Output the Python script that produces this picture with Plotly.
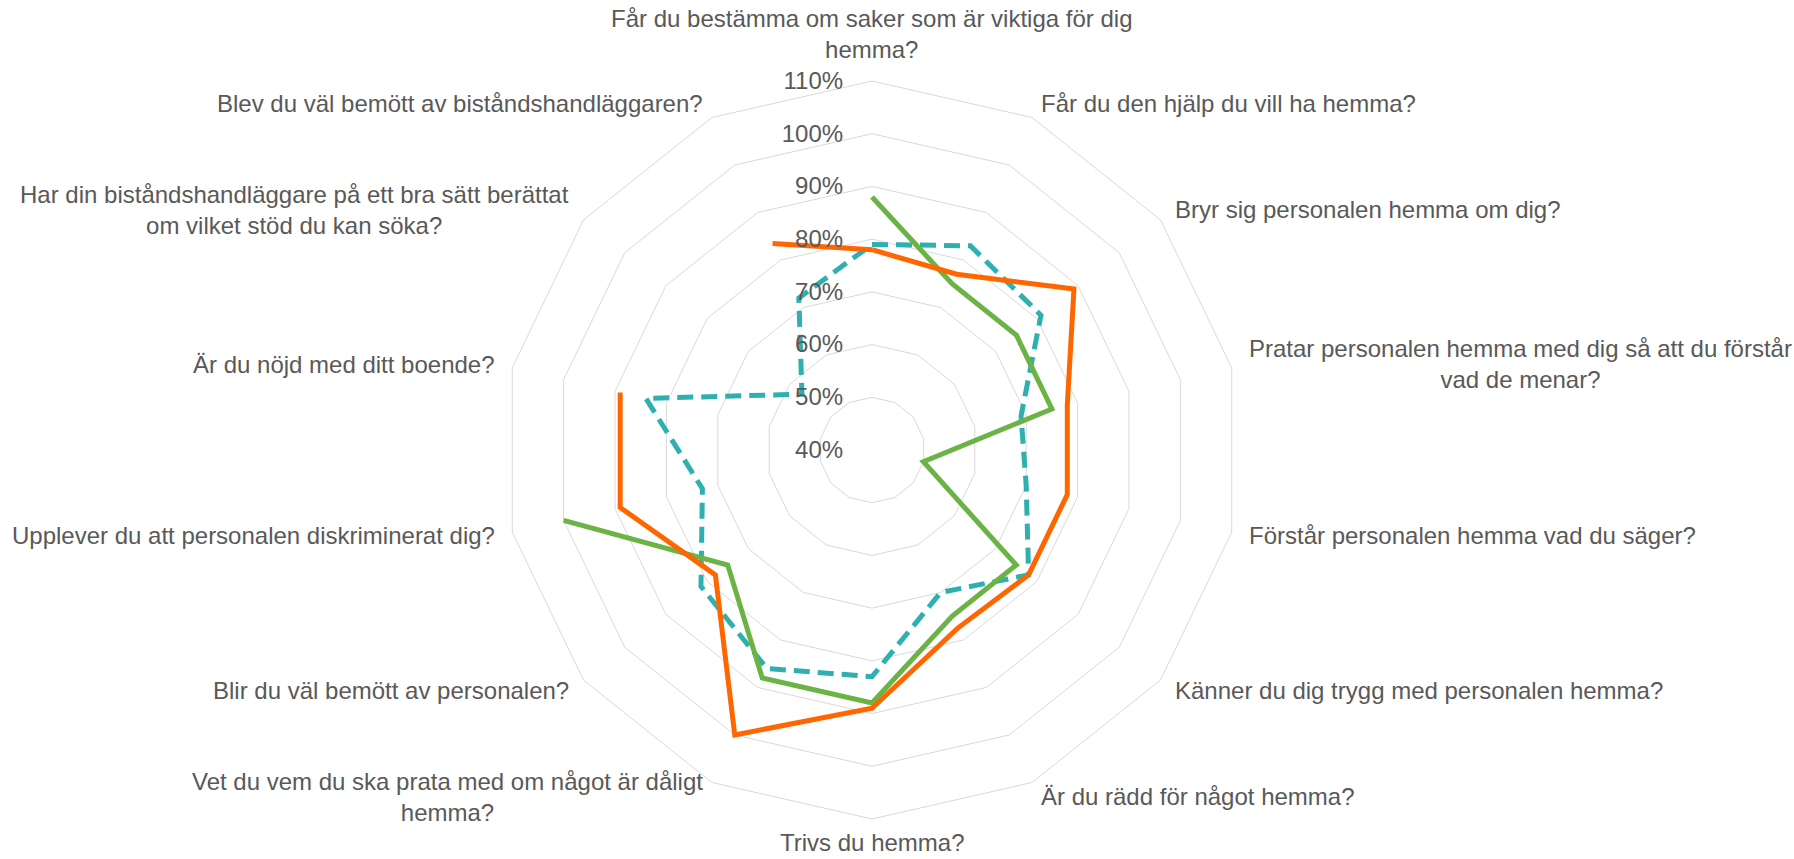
import math
import plotly.graph_objects as go

categories = [
    "Får du bestämma om saker som är viktiga för dig<br>hemma?",
    "Får du den hjälp du vill ha hemma?",
    "Bryr sig personalen hemma om dig?",
    "Pratar personalen hemma med dig så att du förstår<br>vad de menar?",
    "Förstår personalen hemma vad du säger?",
    "Känner du dig trygg med personalen hemma?",
    "Är du rädd för något hemma?",
    "Trivs du hemma?",
    "Vet du vem du ska prata med om något är dåligt<br>hemma?",
    "Blir du väl bemött av personalen?",
    "Upplever du att personalen diskriminerat dig?",
    "Är du nöjd med ditt boende?",
    "Har din biståndshandläggare på ett bra sätt berättat<br>om vilket stöd du kan söka?",
    "Blev du väl bemött av biståndshandläggaren?",
]

orange_values = [78, 77, 89, 78, 78, 78, 77.5, 89, 100, 78, 89, 89, None, 83.5]
teal_values = [79, 83, 81, 69, 70, 78, 70, 83, 86, 81.5, 73, 84, 57, 72]
green_values = [88, 75, 75, 75, 50, 75, 75, 88, 88, 75, 100, None, None, None]

radial_ticks = [40, 50, 60, 70, 80, 90, 100, 110]
radial_labels = ["40%", "50%", "60%", "70%", "80%", "90%", "100%", "110%"]

TEXT = "#595959"
GRID = "#D9D9D9"
W, H = 1794, 859
FS = 24

# polar area (pixels)
CX, CY, R = 872, 450, 369
dom_x = [(CX - R) / W, (CX + R) / W]
dom_y = [1 - (CY + R) / H, 1 - (CY - R) / H]


def closed(vals):
    return vals + [vals[0]]


theta = closed(categories)

fig = go.Figure()
fig.add_trace(go.Scatterpolar(
    r=closed(teal_values), theta=theta, mode="lines",
    line=dict(color="#2EAFB0", width=5, dash="16px,8px"),
    connectgaps=False, name="Serie 1"))
fig.add_trace(go.Scatterpolar(
    r=closed(green_values), theta=theta, mode="lines",
    line=dict(color="#6AB344", width=5),
    connectgaps=False, name="Serie 2"))
fig.add_trace(go.Scatterpolar(
    r=closed(orange_values), theta=theta, mode="lines",
    line=dict(color="#FF6600", width=5),
    connectgaps=False, name="Serie 3"))

# category labels placed just outside the outer polygon, centred lines
annotations = []
n = len(categories)
for k, label in enumerate(categories):
    ang = 2 * math.pi * k / n
    s, c = math.sin(ang), math.cos(ang)
    px = CX + (R + 16) * s
    py = CY - (R + 16) * c
    if s > 0.05:
        xa = "left"
    elif s < -0.05:
        xa = "right"
    else:
        xa = "center"
    if abs(s) < 0.05:
        if c > 0:
            ya = "bottom"
        else:
            ya = "bottom"
            py = H - 1
    else:
        ya = "middle"
    annotations.append(dict(
        x=px / W, y=1 - py / H, xref="paper", yref="paper",
        text=label, showarrow=False, xanchor=xa, yanchor=ya, align="center",
        font=dict(size=FS, color=TEXT),
    ))

fig.update_layout(
    width=W, height=H,
    margin=dict(l=0, r=0, t=0, b=0),
    paper_bgcolor="white",
    showlegend=False,
    font=dict(family="Liberation Sans, Arial, sans-serif", color=TEXT, size=FS),
    annotations=annotations,
    polar=dict(
        domain=dict(x=dom_x, y=dom_y),
        bgcolor="white",
        gridshape="linear",
        angularaxis=dict(
            direction="clockwise", rotation=90,
            showgrid=False, showline=True, linecolor=GRID, linewidth=1,
            showticklabels=False, ticks="",
        ),
        radialaxis=dict(
            range=[40, 110], angle=90, tickangle=90,
            tickvals=radial_ticks, ticktext=radial_labels,
            showline=False, showgrid=True, gridcolor=GRID, gridwidth=1,
            ticks="outside", ticklen=20, tickcolor="rgba(0,0,0,0)",
            side="counterclockwise",
            tickfont=dict(size=FS, color=TEXT),
        ),
    ),
)

fig.write_html("out.html", config={"displayModeBar": False},
               post_script="document.body.style.margin='0';")
